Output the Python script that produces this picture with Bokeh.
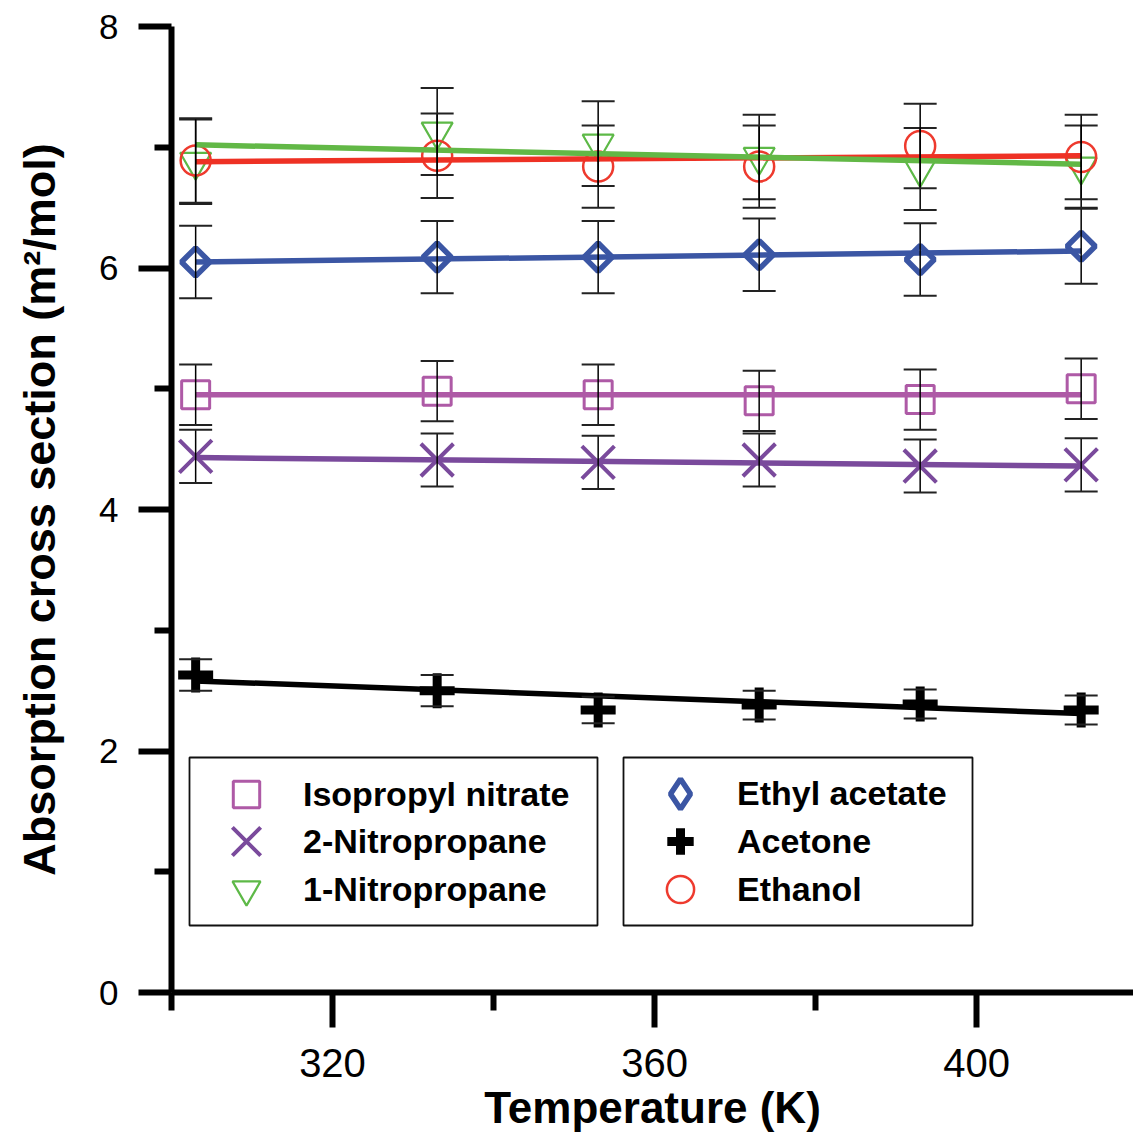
import math
from bokeh.plotting import figure
from bokeh.models import (ColumnDataSource, Whisker, TeeHead, FixedTicker, Legend,
                          LegendItem, Range1d, BoxAnnotation)
from bokeh.embed import file_html
from bokeh.resources import INLINE

# ---- data ----
temperature = [303, 333, 353, 373, 393, 413]
fit_temperature = [303, 413]

isopropyl_nitrate = [4.95, 4.98, 4.95, 4.90, 4.91, 5.00]
isopropyl_nitrate_err = [0.25, 0.25, 0.25, 0.25, 0.25, 0.25]
isopropyl_nitrate_fit = [4.95, 4.95]

nitropropane_2 = [4.44, 4.41, 4.39, 4.41, 4.36, 4.37]
nitropropane_2_err = [0.22, 0.22, 0.22, 0.22, 0.22, 0.22]
nitropropane_2_fit = [4.43, 4.36]

nitropropane_1 = [6.88, 7.13, 7.03, 6.92, 6.82, 6.84]
nitropropane_1_err = [0.35, 0.36, 0.35, 0.35, 0.34, 0.34]
nitropropane_1_fit = [7.02, 6.86]

ethyl_acetate = [6.05, 6.09, 6.09, 6.11, 6.07, 6.18]
ethyl_acetate_err = [0.30, 0.30, 0.30, 0.30, 0.30, 0.31]
ethyl_acetate_fit = [6.05, 6.14]

acetone = [2.63, 2.50, 2.34, 2.38, 2.39, 2.34]
acetone_err = [0.13, 0.13, 0.11, 0.12, 0.12, 0.12]
acetone_fit = [2.58, 2.31]

ethanol = [6.89, 6.93, 6.84, 6.84, 7.01, 6.92]
ethanol_err = [0.35, 0.35, 0.34, 0.34, 0.35, 0.35]
ethanol_fit = [6.88, 6.93]

y_ticks = [0, 2, 4, 6, 8]
y_minor_ticks = [1, 3, 5, 7]
x_ticks = [320, 360, 400]
x_minor_ticks = [300, 340, 380, 420]

FONT = "Liberation Sans"
W, H = 1133, 1137
LEFT, TOP, BOTTOM = 171, 26, 145

p = figure(width=W, height=H, output_backend="svg", toolbar_location=None,
           x_range=Range1d(300, 419.5), y_range=Range1d(0, 8),
           min_border_left=LEFT, min_border_right=0, min_border_top=TOP,
           min_border_bottom=BOTTOM)
p.outline_line_color = None
p.xgrid.visible = False
p.ygrid.visible = False
p.background_fill_color = "white"
p.border_fill_color = "white"
# range used only to carry the legend swatch of the diamond (kept off-frame)
p.extra_y_ranges = {"legend_only": Range1d(100, 101)}

# series: name, values, err, fit, marker colour, line colour, marker, size, lw, angle
series = [
    ("Isopropyl nitrate", isopropyl_nitrate, isopropyl_nitrate_err, isopropyl_nitrate_fit,
     "#AE5AA6", "#AE5AA6", "square", 28, 3, 0),
    ("2-Nitropropane", nitropropane_2, nitropropane_2_err, nitropropane_2_fit,
     "#7A4A9C", "#7A4A9C", "x", 46, 4, 0),
    ("1-Nitropropane", nitropropane_1, nitropropane_1_err, nitropropane_1_fit,
     "#5DB947", "#62B846", "inverted_triangle", 31, 2.2, 0),
    ("Ethyl acetate", ethyl_acetate, ethyl_acetate_err, ethyl_acetate_fit,
     "#3B56A4", "#3B56A4", "square", 20, 5.5, math.pi / 4),
    ("Acetone", acetone, acetone_err, acetone_fit,
     "black", "black", "cross", 35, 9, 0),
    ("Ethanol", ethanol, ethanol_err, ethanol_fit,
     "#EE3A2E", "#EE3124", "circle", 30, 2.5, 0),
]

marker_renderers = {}
for name, vals, err, fit, mc, lc, mk, sz, lw, ang in series:
    src = ColumnDataSource(dict(x=temperature, y=vals))
    r = p.scatter("x", "y", source=src, marker=mk, size=sz, angle=ang,
                  line_color=mc, line_width=lw, fill_color=None)
    marker_renderers[name] = r

# legend swatch for the diamond (legend glyphs ignore angle, so use "diamond")
diamond_legend = p.scatter(x=temperature[:1], y=ethyl_acetate[:1], marker="diamond",
                           size=30, line_color="#3B56A4", line_width=5.5,
                           fill_color=None, y_range_name="legend_only")

# fit lines (red drawn before green)
line_order = ["Isopropyl nitrate", "2-Nitropropane", "Ethyl acetate", "Acetone",
              "Ethanol", "1-Nitropropane"]
lookup = {s[0]: s for s in series}
for name in line_order:
    _, vals, err, fit, mc, lc, mk, sz, lw, ang = lookup[name]
    p.line(fit_temperature, fit, line_color=lc, line_width=5.5)

# error bars
for name, vals, err, fit, mc, lc, mk, sz, lw, ang in series:
    esrc = ColumnDataSource(dict(x=temperature,
                                 upper=[v + e for v, e in zip(vals, err)],
                                 lower=[v - e for v, e in zip(vals, err)]))
    w = Whisker(source=esrc, base="x", upper="upper", lower="lower",
                line_color="black", line_width=1.5, level="overlay",
                upper_head=TeeHead(size=33, line_color="#222222", line_width=2),
                lower_head=TeeHead(size=33, line_color="#222222", line_width=2))
    p.add_layout(w)

# axes
for ax in (p.xaxis[0], p.yaxis[0]):
    ax.axis_line_width = 6
    ax.axis_line_color = "black"
    ax.major_tick_line_width = 6
    ax.minor_tick_line_width = 6
    ax.major_tick_line_color = "black"
    ax.minor_tick_line_color = "black"
    ax.major_tick_in = 0
    ax.minor_tick_in = 0
    ax.major_label_text_font = FONT
    ax.major_label_text_color = "black"
    ax.axis_label_text_font = FONT
    ax.axis_label_text_font_style = "bold"
    ax.axis_label_text_color = "black"

p.yaxis.ticker = FixedTicker(ticks=y_ticks, minor_ticks=y_minor_ticks)
p.xaxis.ticker = FixedTicker(ticks=x_ticks, minor_ticks=x_minor_ticks)
p.yaxis.major_tick_out = 33
p.yaxis.minor_tick_out = 17
p.xaxis.major_tick_out = 35
p.xaxis.minor_tick_out = 18
p.yaxis.major_label_text_font_size = "35px"
p.xaxis.major_label_text_font_size = "40px"
p.yaxis.major_label_standoff = 20
p.xaxis.major_label_standoff = 21
p.xaxis.axis_label = "Temperature (K)"
p.xaxis.axis_label_text_font_size = "44px"
p.xaxis.axis_label_standoff = 3
p.yaxis.axis_label = "Absorption cross section (m²/mol)"
p.yaxis.axis_label_text_font_size = "45px"
p.yaxis.axis_label_standoff = 31

# legend boxes (screen units, relative to the plot frame)
FRAME_BOTTOM = H - BOTTOM
for bl, br in ((189, 597), (623, 972)):
    p.add_layout(BoxAnnotation(left=bl - LEFT, right=br - LEFT,
                               top=FRAME_BOTTOM - 757, bottom=FRAME_BOTTOM - 925,
                               left_units="screen", right_units="screen",
                               top_units="screen", bottom_units="screen",
                               fill_color="white", fill_alpha=1.0,
                               line_color="#111111", line_alpha=1.0, line_width=1.8,
                               level="annotation"))

# one legend per row: (label, renderer, marker centre x, row centre y, glyph height)
rows = [
    ("Isopropyl nitrate", marker_renderers["Isopropyl nitrate"], 246, 794, 66),
    ("2-Nitropropane", marker_renderers["2-Nitropropane"], 246, 841, 100),
    ("1-Nitropropane", marker_renderers["1-Nitropropane"], 246, 889, 70),
    ("Ethyl acetate", diamond_legend, 680, 794, 75),
    ("Acetone", marker_renderers["Acetone"], 680, 841, 66),
    ("Ethanol", marker_renderers["Ethanol"], 680, 889, 68),
]
GW = 110
for label, rend, cx, cy, gh in rows:
    lg = Legend(items=[LegendItem(label=label, renderers=[rend])],
                location=(cx - GW // 2 - LEFT, FRAME_BOTTOM - (cy + gh // 2)),
                orientation="vertical", glyph_width=GW, glyph_height=gh,
                label_height=gh, spacing=0, padding=0, margin=0, label_standoff=2,
                label_text_font=FONT, label_text_font_size="34px",
                label_text_font_style="bold", label_text_color="black",
                border_line_color=None, background_fill_alpha=0.0)
    p.add_layout(lg)

open("out.html", "w").write(file_html(p, INLINE))
